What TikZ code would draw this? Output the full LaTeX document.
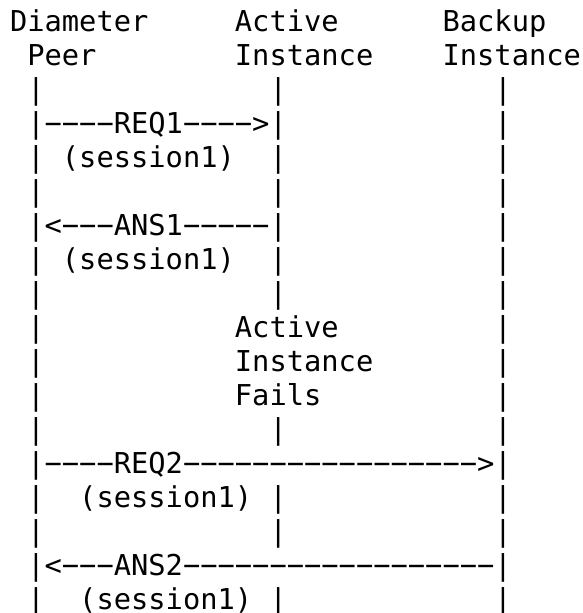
\documentclass[tikz,border=0pt]{standalone}
\usepackage{fontspec}
\setmonofont{DejaVu Sans Mono}
\begin{document}
\begin{tikzpicture}[x=1pt,y=-1pt,
  artline/.style={anchor=base west, inner sep=0pt, outer sep=0pt,
    font=\ttfamily\fontsize{28.74}{34}\selectfont}]
\useasboundingbox (0,0) rectangle (583,613);
\node[artline] (r1)  at (10,31)  {Diameter~~~~~Active~~~~~~Backup};
\node[artline] (r2)  at (10,65)  {~Peer~~~~~~~~Instance~~~~Instance};
\node[artline] (r3)  at (10,99)  {~|~~~~~~~~~~~~~|~~~~~~~~~~~~|};
\node[artline] (r4)  at (10,133) {~|−−−−REQ1−−−−>|~~~~~~~~~~~~|};
\node[artline] (r5)  at (10,167) {~|~(session1)~~|~~~~~~~~~~~~|};
\node[artline] (r6)  at (10,201) {~|~~~~~~~~~~~~~|~~~~~~~~~~~~|};
\node[artline] (r7)  at (10,235) {~|<−−−ANS1−−−−−|~~~~~~~~~~~~|};
\node[artline] (r8)  at (10,269) {~|~(session1)~~|~~~~~~~~~~~~|};
\node[artline] (r9)  at (10,303) {~|~~~~~~~~~~~~~|~~~~~~~~~~~~|};
\node[artline] (r10) at (10,337) {~|~~~~~~~~~~~Active~~~~~~~~~|};
\node[artline] (r11) at (10,371) {~|~~~~~~~~~~~Instance~~~~~~~|};
\node[artline] (r12) at (10,405) {~|~~~~~~~~~~~Fails~~~~~~~~~~|};
\node[artline] (r13) at (10,439) {~|~~~~~~~~~~~~~|~~~~~~~~~~~~|};
\node[artline] (r14) at (10,473) {~|−−−−REQ2−−−−−−−−−−−−−−−−−>|};
\node[artline] (r15) at (10,507) {~|~~(session1)~|~~~~~~~~~~~~|};
\node[artline] (r16) at (10,541) {~|~~~~~~~~~~~~~|~~~~~~~~~~~~|};
\node[artline] (r17) at (10,575) {~|<−−−ANS2−−−−−−−−−−−−−−−−−−|};
\node[artline] (r18) at (10,609) {~|~~(session1)~|~~~~~~~~~~~~|};
\end{tikzpicture}
\end{document}
